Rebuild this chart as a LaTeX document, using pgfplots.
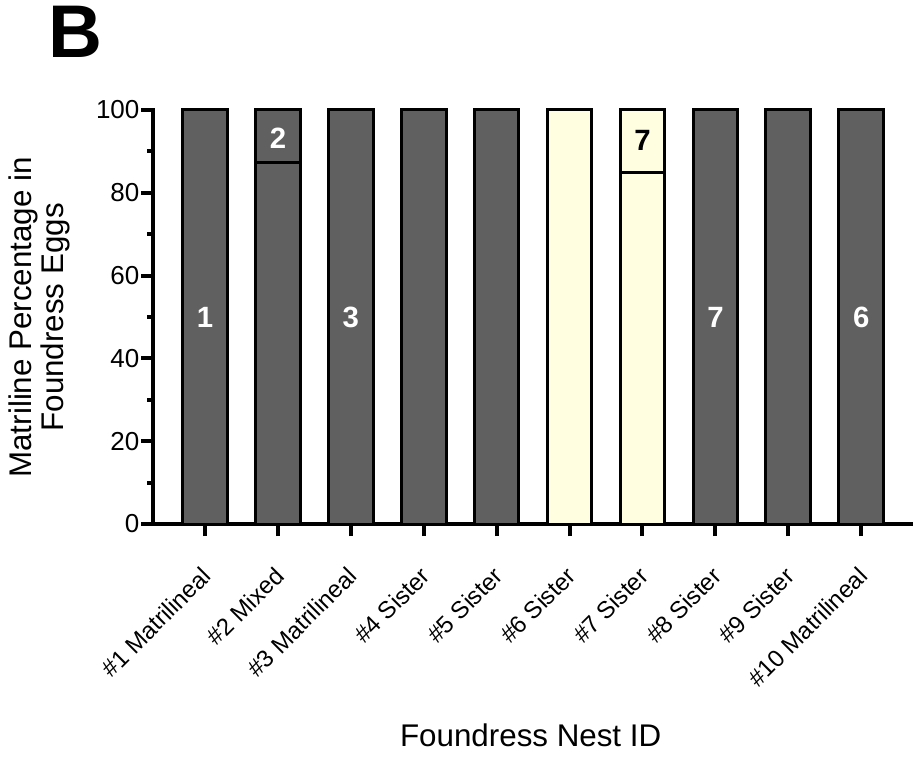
\documentclass[border=0pt]{standalone}
\usepackage{pgfplots}
\pgfplotsset{compat=1.18}
\usepackage{fontspec}
\setmainfont{Liberation Sans}
\definecolor{darkbar}{HTML}{606060}
\definecolor{palebar}{HTML}{FFFEE0}
\begin{document}
\begin{tikzpicture}
\useasboundingbox (0,0) rectangle (684.75pt,570pt);
\begin{axis}[
  at={(114.75pt,177pt)}, anchor=south west,
  scale only axis, width=570pt, height=310.5pt,
  xmin=0.287, xmax=10.71, ymin=0, ymax=100,
  axis x line=bottom, axis y line=left,
  axis line style={-, line width=3pt, line cap=rect},
  xtick={1,...,10},
  xticklabels={\#1 Matrilineal,\#2 Mixed,\#3 Matrilineal,\#4 Sister,\#5 Sister,\#6 Sister,\#7 Sister,\#8 Sister,\#9 Sister,\#10 Matrilineal},
  xticklabel style={rotate=45, anchor=north east, font=\fontsize{18}{21}\selectfont, inner sep=0pt, xshift=-18pt, yshift=-13pt},
  ytick={0,20,...,100}, minor ytick={10,30,...,90},
  yticklabel style={font=\fontsize{19.5}{22}\selectfont, inner sep=1pt},
  /pgf/number format/assume math mode=true,
  tick align=outside, tick pos=left,
  major tick length=9pt, minor tick length=4.5pt,
  every tick/.style={line width=3pt, black},
  ybar, bar width=33.5pt, bar shift=0pt,
  clip=false,
]
\addplot[fill=darkbar, draw=black, line width=2.25pt] coordinates {(1,100) (2,100) (3,100) (4,100) (5,100) (8,100) (9,100) (10,100)};
\addplot[fill=palebar, draw=black, line width=2.25pt] coordinates {(6,100) (7,100)};
\addplot[fill=darkbar, draw=black, line width=2.25pt] coordinates {(2,87.2)};
\addplot[fill=palebar, draw=black, line width=2.25pt] coordinates {(7,85.0)};
\node[white, font=\fontsize{22}{25}\bfseries\selectfont] at (axis cs:1,50) {1};
\node[white, font=\fontsize{22}{25}\bfseries\selectfont] at (axis cs:2,93.2) {2};
\node[white, font=\fontsize{22}{25}\bfseries\selectfont] at (axis cs:3,50) {3};
\node[black, font=\fontsize{22}{25}\bfseries\selectfont] at (axis cs:7,92.6) {7};
\node[white, font=\fontsize{22}{25}\bfseries\selectfont] at (axis cs:8,50) {7};
\node[white, font=\fontsize{22}{25}\bfseries\selectfont] at (axis cs:10,50) {6};
\end{axis}
\node[font=\fontsize{56}{60}\bfseries\selectfont, anchor=base west, inner sep=0pt] at (36pt,527pt) {B};
\node[font=\fontsize{23.5}{23.5}\selectfont, align=center, rotate=90, anchor=center] at (29.5pt,332pt) {Matriline Percentage in\\Foundress Eggs};
\node[font=\fontsize{23.5}{26}\selectfont, anchor=base] at (398pt,10pt) {Foundress Nest ID};
\end{tikzpicture}
\end{document}
